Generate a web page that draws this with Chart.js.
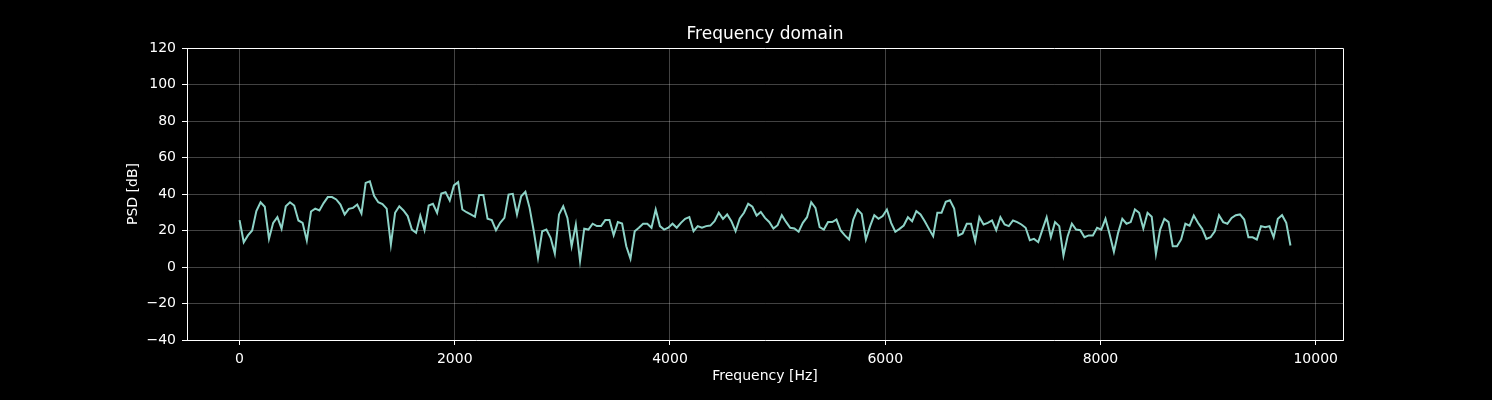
<!DOCTYPE html>
<html>
<head>
<meta charset="utf-8">
<title>Frequency domain</title>
<script src="https://cdn.jsdelivr.net/npm/chart.js@4.4.1/dist/chart.umd.min.js"></script>
<style>
  html, body { margin: 0; padding: 0; background: #000; }
  canvas { display: block; }
</style>
</head>
<body>
<canvas id="psdChart" width="1492" height="400"></canvas>
<script>
// spacing of the frequency bins (Hz)
const binHz = 39.0625;

// PSD values in dB, one per bin
const psdDb = [
  25.7, 13.6, 17.3, 20, 30.6, 35.5, 33, 15.4, 24.2, 27.3,
  21, 33.3, 35.5, 33.7, 25.5, 24.2, 14.5, 30.4, 32, 31,
  35, 38.3, 38.3, 37, 34.2, 28.8, 31.9, 32.4, 34.2, 29.3,
  46.1, 47, 39, 35.5, 34.5, 32, 12.3, 29.7, 33.3, 31,
  27.9, 20.5, 18.7, 28.2, 20.2, 33.7, 34.6, 29.7, 40.3, 41,
  36.4, 44.7, 46.5, 31.5, 30, 28.8, 27.5, 39.4, 39.4, 26.4,
  25.7, 20.2, 24.2, 26.9, 39.7, 40.1, 28.8, 38.8, 41.2, 32.4,
  19.6, 5, 19.6, 20.5, 16, 7.4, 28.8, 33.3, 26.9, 11.4,
  23.3, 3.4, 21, 20.5, 23.7, 22.4, 22.4, 25.7, 25.7, 17.4,
  24.6, 23.8, 11.4, 4.5, 19.6, 21.5, 23.7, 23.7, 21.5, 31.5,
  22.4, 20.5, 21.5, 23.7, 21.5, 24.2, 26.4, 27.3, 19.6, 22.4,
  21.5, 22.4, 22.7, 25.1, 29.7, 26.4, 28.8, 25.1, 19.6, 26.6,
  29.7, 34.6, 33, 28.2, 30.2, 26.9, 24.7, 21.1, 22.9, 28.4,
  24.7, 21.5, 21.1, 19.3, 24.2, 27.3, 35.5, 32.4, 21.8, 20.5,
  24.6, 24.6, 26, 20, 17.3, 15.1, 26, 31.5, 29.1, 15.1,
  22.4, 28.4, 26.4, 27.9, 31.5, 24.2, 19.3, 20.9, 22.7, 27.3,
  25.1, 30.6, 28.8, 25.1, 20.9, 16.9, 29.7, 29.7, 35.7, 36.6,
  32, 17.3, 18.4, 23.7, 23.7, 14.2, 27.3, 23.3, 24.2, 25.5,
  20.2, 27.3, 23.3, 22.4, 25.5, 24.6, 23.3, 21.5, 14.7, 15.4,
  13.6, 20.5, 27.3, 16.3, 24.6, 22.4, 6.3, 16.9, 23.7, 20.5,
  20.2, 16.3, 17.3, 17.3, 21.5, 20.5, 26.4, 17.8, 8.3, 18.7,
  26.4, 23.7, 24.6, 31.5, 29.7, 21.1, 29.7, 27.5, 7.2, 20.5,
  26.4, 24.6, 11.4, 11.4, 15.1, 23.7, 22.7, 28.2, 24.2, 20.9,
  15.4, 16.3, 19.6, 28.4, 24.6, 23.7, 26.9, 28.4, 28.8, 26,
  16.3, 16.3, 15.1, 22.4, 21.8, 22.4, 16.3, 26.4, 28.4, 24.2,
  11.8
];

// tick positions
const xTicks = [0, 2000, 4000, 6000, 8000, 10000];
const yTicks = [-40, -20, 0, 20, 40, 60, 80, 100, 120];

const chartTitle = 'Frequency domain';

const points = psdDb.map((v, i) => ({ x: i * binHz, y: v }));
const lastHz = (psdDb.length - 1) * binHz;
const xPad = lastHz * 0.05;

const fg = '#ffffff';
const gridCol = 'rgba(255,255,255,0.33)';
const fontFamily = '"DejaVu Sans", sans-serif';

//black background, top/right spines and the title (centred on the plot box like matplotlib)
const framePlugin = {
  id: 'frame',
  beforeDraw(chart) {
    const c = chart.ctx;
    c.save();
    c.fillStyle = '#000';
    c.fillRect(0, 0, chart.width, chart.height);
    c.restore();
  },
  afterDraw(chart) {
    const a = chart.chartArea, c = chart.ctx;
    c.save();
    c.strokeStyle = fg;
    c.lineWidth = 1;
    c.beginPath();
    c.moveTo(a.left, a.top + 0.5);
    c.lineTo(a.right + 0.5, a.top + 0.5);
    c.lineTo(a.right + 0.5, a.bottom);
    c.stroke();

    c.fillStyle = fg;
    c.font = '17px ' + fontFamily;
    c.textAlign = 'center';
    c.textBaseline = 'alphabetic';
    c.fillText(chartTitle, (a.left + a.right) / 2, a.top - 9);
    c.restore();
  }
};

Chart.defaults.font.family = fontFamily;
Chart.defaults.color = fg;

const minus = v => String(v).replace('-', '\u2212');

new Chart(document.getElementById('psdChart').getContext('2d'), {
  type: 'line',
  data: {
    datasets: [{
      label: 'PSD',
      data: points,
      borderColor: '#8dd3c7',
      borderWidth: 2,
      pointRadius: 0,
      tension: 0,
      fill: false
    }]
  },
  options: {
    responsive: false,
    animation: false,
    devicePixelRatio: 1,
    layout: { padding: { left: 0, right: 149, top: 48, bottom: 0 } },
    scales: {
      x: {
        type: 'linear',
        min: -xPad,
        max: lastHz + xPad,
        afterBuildTicks(scale) { scale.ticks = xTicks.map(v => ({ value: v })); },
        afterFit(scale) { scale.height = 60; },
        grid: { color: gridCol, lineWidth: 0.8, tickColor: fg, tickLength: 5, tickWidth: 1 },
        border: { color: fg, width: 1 },
        ticks: { font: { size: 14 }, padding: 6, maxRotation: 0, callback: v => minus(v) },
        title: { display: true, text: 'Frequency [Hz]', font: { size: 14 }, padding: { top: 0, bottom: 15 } }
      },
      y: {
        min: yTicks[0],
        max: yTicks[yTicks.length - 1],
        afterBuildTicks(scale) { scale.ticks = yTicks.map(v => ({ value: v })); },
        afterFit(scale) { scale.width = 187; },
        grid: { color: gridCol, lineWidth: 0.8, tickColor: fg, tickLength: 5, tickWidth: 1 },
        border: { color: fg, width: 1 },
        ticks: { font: { size: 14 }, padding: 6, callback: v => minus(v) },
        title: { display: true, text: 'PSD [dB]', font: { size: 14 }, padding: { top: 125, bottom: 0 } }
      }
    },
    plugins: {
      legend: { display: false },
      tooltip: { enabled: false },
      title: { display: false }
    }
  },
  plugins: [framePlugin]
});
</script>
</body>
</html>
